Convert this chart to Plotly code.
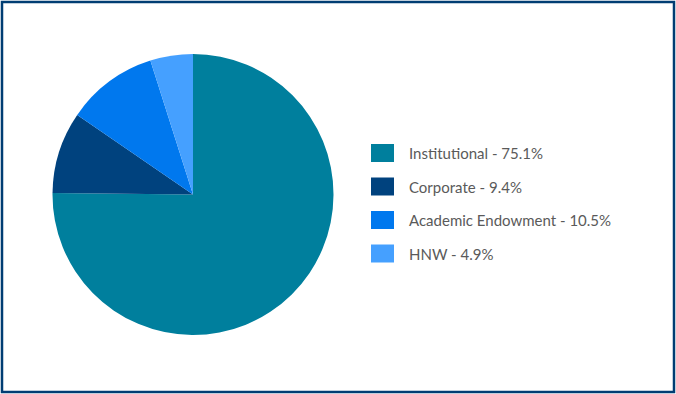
import plotly.graph_objects as go

W, H = 676, 394

categories = ["Institutional", "Corporate", "Academic Endowment", "HNW"]
shares = [75.1, 9.4, 10.5, 4.9]
colors = ["#007f9d", "#00427e", "#0078ee", "#45a0ff"]
legend_labels = [f"{c} - {v}%" for c, v in zip(categories, shares)]

fig = go.Figure()
fig.add_trace(go.Pie(
    labels=categories,
    values=shares,
    sort=False,
    direction="clockwise",
    rotation=0,
    textinfo="none",
    marker=dict(colors=colors, line=dict(width=0)),
    domain=dict(x=[52 / W, 334 / W], y=[1 - 335 / H, 1 - 54 / H]),
    showlegend=False,
))

def px(x):
    return x / W

def py(y):
    return 1 - y / H

shapes = [dict(type="rect", xref="paper", yref="paper",
               x0=px(2), x1=px(674), y0=py(2), y1=py(392),
               line=dict(color="#003d73", width=2.5), fillcolor="rgba(0,0,0,0)")]
annotations = []
row_y0 = 153
row_step = 33.5
for i, (lab, col) in enumerate(zip(legend_labels, colors)):
    cy = row_y0 + i * row_step
    shapes.append(dict(type="rect", xref="paper", yref="paper",
                       x0=px(371), x1=px(394), y0=py(cy + 9), y1=py(cy - 9),
                       fillcolor=col, line=dict(width=0)))
    annotations.append(dict(xref="paper", yref="paper", x=px(407), y=py(cy),
                            text=lab, showarrow=False, xanchor="left", yanchor="middle",
                            font=dict(family="Lato", size=15, color="#5a5a5a")))

fig.update_layout(
    width=W, height=H,
    margin=dict(l=0, r=0, t=0, b=0),
    paper_bgcolor="white",
    plot_bgcolor="white",
    shapes=shapes,
    annotations=annotations,
)

fig.write_html("out.html")
